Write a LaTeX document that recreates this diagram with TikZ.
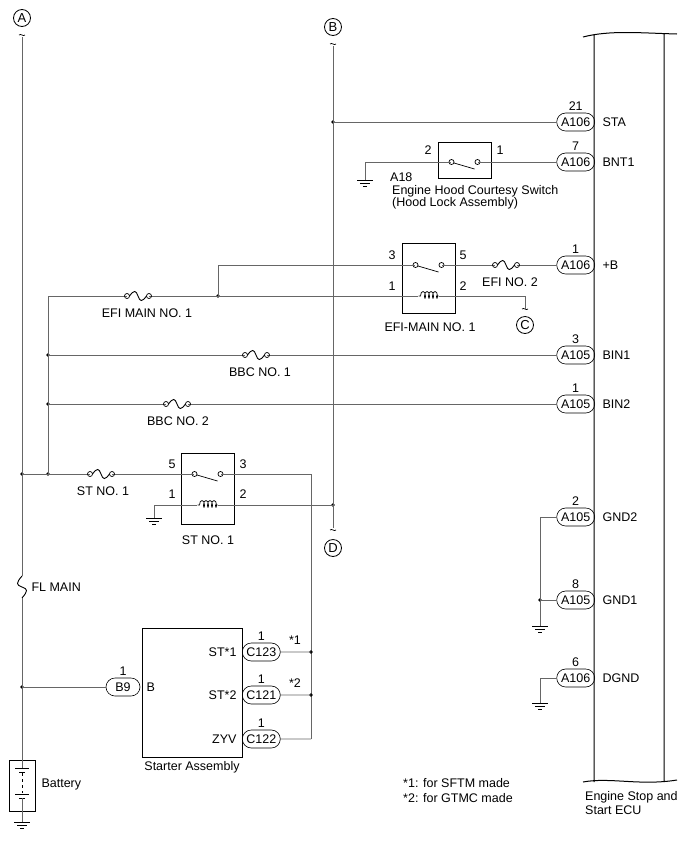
\documentclass[tikz,border=0pt]{standalone}
\usepackage{fontspec}
\setmainfont{Liberation Sans}
\usetikzlibrary{shapes.misc, positioning, calc}

\tikzset{
  wire/.style={draw=black!60, line width=0.8pt},
  conn/.style={draw, rounded rectangle, line width=0.6pt, minimum width=40pt, minimum height=18pt, inner sep=1pt},
  jn/.style={circle, fill, inner sep=1.4pt},
  tag/.style={draw, circle, line width=0.8pt, inner sep=0.5pt, minimum size=17pt, font=\fontsize{13}{14}\selectfont},
  box/.style={draw, line width=0.8pt},
  fuse/.pic={\draw[line width=0.7pt] (-11,0) circle (2.5) (11,0) circle (2.5);
    \draw[line width=0.9pt] (-8.5,0) .. controls (-4,-6) and (-2,-6) .. (0,0) .. controls (2,6) and (4,6) .. (8.5,0);},
  vfuse/.pic={\draw[line width=0.9pt] (0,-11) .. controls (-6,-4) and (-6,-2) .. (0,0) .. controls (6,2) and (6,4) .. (0,11);},
  gnd/.pic={\draw[line width=0.7pt] (-8,0) -- (8,0) (-5,3) -- (5,3) (-2,6) -- (2,6);},
  brk/.pic={\draw[line width=0.7pt] (-3,0) .. controls (-1,-2) and (1,2) .. (3,0);},
  coil/.pic={\draw[line width=0.7pt] (-10,0) -- (-8,0)
    \foreach \i in {0,1,2,3} {.. controls +(0,-6) and +(0,-6) .. ++(5,0) .. controls +(0,3) and +(0,3) .. ++(-1,0)} -- (10,0);},
  sw/.pic={\draw[line width=0.7pt] (-13,0) circle (2.5) (13,0) circle (2.5) (-10.5,1) -- (10,7);}
}

\begin{document}
\begin{tikzpicture}[x=1pt, y=-1pt, font=\fontsize{12.5}{14.5}\selectfont]
\useasboundingbox (0,0) rectangle (688,852);

% ECU
\draw[line width=1pt] (583,37) .. controls (610,30) and (640,33) .. (677,34)
  (594,35) -- (594,782) (664,34) -- (664,782)
  (583,782) .. controls (610,777) and (640,786) .. (677,780);
\node[align=left, anchor=north west, inner sep=0] (ecu) at (585,791) {Engine Stop and\\Start ECU};

% off-page tags
\node[tag] (ta) at (22,18) {A};
\node[tag] (tb) at (333,27) {B};
\node[tag] (tc) at (525,325) {C};
\node[tag] (td) at (333,548) {D};
\pic at (22,35) {brk};
\pic at (333,44) {brk};
\pic at (525,309) {brk};
\pic at (333,530) {brk};

% ECU connectors
\foreach \n/\y/\c/\p/\s in {sta/122/A106/21/STA, bnt/162/A106/7/BNT1, pb/265/A106/1/+B,
  bin1/355/A105/3/BIN1, bin2/404/A105/1/BIN2, gnd2/517/A105/2/GND2, gnd1/600/A105/8/GND1, dgnd/678/A106/6/DGND} {
  \node[conn, anchor=east, label={[inner sep=2pt]above:\p}] (\n) at (595,\y) {\c};
  \node[anchor=west] at (599,\y) {\s};
}

% left supply
\coordinate (a1) at (22,474);
\coordinate (a2) at (22,687);
\node[jn] at (a1) {};
\node[jn] at (a2) {};
\coordinate (l0) at (48,296);
\coordinate (l1) at (48,355);
\coordinate (l2) at (48,404);
\coordinate (l3) at (48,474);
\foreach \c in {l1,l2,l3} \node[jn] at (\c) {};
\pic at (22,587) {vfuse};
\node[anchor=west] (flm) at (28,587) {FL MAIN};

% battery
\draw[box] (9,760) rectangle (35,811);
\draw[line width=0.7pt] (15,768) -- (29,768) (19,772) -- (25,772) (15,794) -- (29,794) (19,798) -- (25,798);
\draw[line width=0.6pt, dashed] (22,773) -- (22,793);
\node[anchor=west] (bat) at (38,784) {Battery};
\pic at (22,822) {gnd};
\draw[wire] (22,37) -- (22,576) (22,598) -- (22,768) (22,798) -- (22,822);
\draw[wire] (l0) -- (l3) -- (a1);

% B line
\coordinate (b1) at (333,122);
\coordinate (b2) at (333,505);
\node[jn] at (b1) {};
\node[jn] at (b2) {};
\draw[wire] (333,46) -- (333,528);
\draw[wire] (b1) -- (sta);

% hood switch
\node[box, minimum width=53pt, minimum height=36pt] (hsw) at (464.5,160) {};
\pic at (464.5,162) {sw};
\node at (428,150) {2};
\node at (500,150) {1};
\draw[wire] (365,180) -- (365,162) -- (451,162);
\draw[wire] (478,162) -- (bnt);
\pic at (365,180) {gnd};
\node[align=left, anchor=north west, inner sep=0] (hlbl) at (390,173) {A18\\[-2pt]\hspace*{2pt}Engine Hood Courtesy Switch\\[-2pt]\hspace*{2pt}(Hood Lock Assembly)};

% EFI MAIN relay
\node[box, minimum width=53pt, minimum height=70pt] (efr) at (428.5,278) {};
\pic at (428.5,265) {sw};
\pic at (428.5,296) {coil};
\node at (392,255) {3};
\node at (463,255) {5};
\node at (392,286) {1};
\node at (463,286) {2};
\node (efl) at (430,327) {EFI-MAIN NO. 1};
\coordinate (e1) at (218,296);
\node[jn] at (e1) {};
\draw[wire] (e1) -- (218,265) -- (415,265);
\draw[wire] (442,265) -- (495,265) (517,265) -- (pb);
\pic at (506,265) {fuse};
\node (efi2) at (510,282) {EFI NO. 2};
\draw[wire] (l0) -- (127,296) (149,296) -- (418,296);
\draw[wire] (439,296) -- (525,296) -- (525,309);
\pic at (138,296) {fuse};
\node (efm) at (147,313) {EFI MAIN NO. 1};

% BBC fuses
\draw[wire] (l1) -- (245,355) (267,355) -- (bin1);
\pic at (256,355) {fuse};
\node (bbc1) at (260,372) {BBC NO. 1};
\draw[wire] (l2) -- (166,404) (188,404) -- (bin2);
\pic at (177,404) {fuse};
\node (bbc2) at (178,421) {BBC NO. 2};

% ST relay
\node[box, minimum width=53pt, minimum height=71pt] (str) at (207.5,488.5) {};
\pic at (207.5,474) {sw};
\pic at (207.5,505) {coil};
\node at (172,464) {5};
\node at (243,464) {3};
\node at (172,494) {1};
\node at (243,494) {2};
\node (stl) at (208,540) {ST NO. 1};
\draw[wire] (a1) -- (90,474) (112,474) -- (194,474);
\pic at (101,474) {fuse};
\node (stf) at (103,491) {ST NO. 1};
\draw[wire] (221,474) -- (311,474) -- (311,739);
\draw[wire] (154,518) -- (154,505) -- (197,505);
\draw[wire] (218,505) -- (b2);
\pic at (154,518) {gnd};

% starter
\node[box, minimum width=100pt, minimum height=129pt] (sta0) at (192,692.5) {};
\node[anchor=south] at (sta0.south |- 0,777) {Starter Assembly};
\node[conn, minimum width=36pt, label={[inner sep=2pt]above:1}] (b9) at (123,687) {B9};
\node[anchor=west] at (143,687) {B};
\draw[wire] (a2) -- (b9);
\coordinate (s1) at (311,652);
\coordinate (s2) at (311,695);
\node[jn] at (s1) {};
\node[jn] at (s2) {};
\foreach \n/\y/\c/\p/\t in {c123/652/C123/ST*1/*1, c121/695/C121/ST*2/*2, c122/739/C122/ZYV/} {
  \node[conn, anchor=west, label={[inner sep=2pt]above:1}] (\n) at (242,\y) {\c};
  \node[anchor=east] at (240,\y) {\p};
  \node at (295,\y-12) {\t};
}
\draw[wire] (c123) -- (s1);
\draw[wire] (c121) -- (s2);
\draw[wire] (c122) -- (311,739);

% grounds at ECU
\coordinate (g1) at (540,600);
\node[jn] at (g1) {};
\draw[wire] (gnd2) -- (540,517) -- (540,626);
\draw[wire] (gnd1) -- (g1);
\pic at (540,626) {gnd};
\draw[wire] (dgnd) -- (540,678) -- (540,703);
\pic at (540,703) {gnd};

% notes
\node[align=left, anchor=north west, inner sep=0] (notes) at (403,778) {*1: for SFTM made\\[1pt]*2: for GTMC made};
\end{tikzpicture}
\end{document}
